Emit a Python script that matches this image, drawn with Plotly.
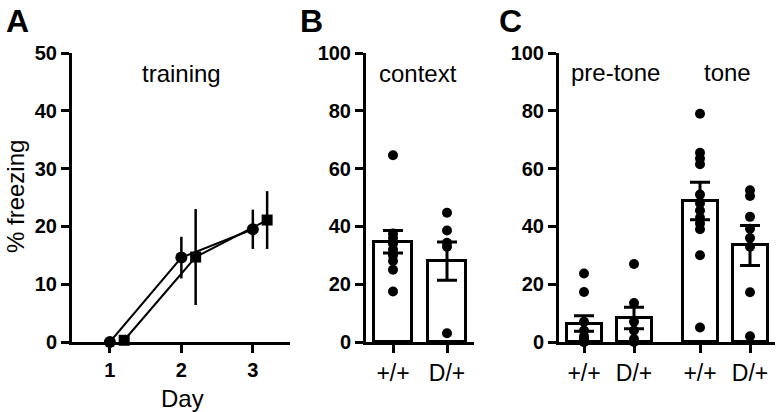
import plotly.graph_objects as go

# ---------------- data ----------------
days = [1, 2, 3]
wt_training = [0.0, 14.6, 19.5]
wt_training_sem = [0.0, 3.6, 3.4]
mut_training = [0.3, 14.7, 21.1]
mut_training_sem = [0.0, 8.3, 5.0]

genotypes = ["+/+", "D/+"]
context_mean = [34.7, 28.0]
context_sem = [3.9, 6.6]
context_wt_points = [64.6, 37.5, 36.0, 34.0, 32.0, 30.0, 28.0, 25.0, 17.5]
context_mut_points = [44.7, 38.6, 34.3, 33.0, 3.0]

pretone_mean = [6.4, 8.3]
pretone_sem = [2.7, 3.7]
pretone_wt_points = [23.7, 17.3, 7.0, 4.0, 2.0, 1.0, 0.5, 0.0, 0.0]
pretone_mut_points = [27.0, 13.5, 7.0, 4.0, 1.0, 0.0]

tone_mean = [48.8, 33.4]
tone_sem = [6.5, 6.9]
tone_wt_points = [79.0, 65.5, 63.5, 61.5, 51.0, 48.0, 45.5, 43.0, 41.0, 39.0, 30.0, 5.0]
tone_mut_points = [52.5, 50.5, 43.3, 39.2, 36.0, 33.0, 17.2, 2.0]

# ---------------- styling ----------------
W, H = 778, 412
FONT = "Liberation Sans, Arial, Helvetica, sans-serif"
MUT_OFFSET = 0.2
C_POS = [0, 1, 2.32, 3.32]   # category slots in panel C

def px(x):
    return x / W

def py(y):
    return 1 - y / H

fig = go.Figure()

# Panel A: training lines
fig.add_trace(go.Scatter(
    x=days, y=wt_training, mode="lines+markers",
    line=dict(color="black", width=2),
    marker=dict(symbol="circle", size=12, color="black"),
    error_y=dict(type="data", array=wt_training_sem, width=0, thickness=2.5, color="black"),
    cliponaxis=False, xaxis="x", yaxis="y", showlegend=False))
fig.add_trace(go.Scatter(
    x=[d + MUT_OFFSET for d in days], y=mut_training, mode="lines+markers",
    line=dict(color="black", width=2),
    marker=dict(symbol="square", size=11, color="black"),
    error_y=dict(type="data", array=mut_training_sem, width=0, thickness=2.5, color="black"),
    cliponaxis=False, xaxis="x", yaxis="y", showlegend=False))

bar_style = dict(marker=dict(color="white", line=dict(color="black", width=3)), width=0.7)
dot_style = dict(mode="markers", marker=dict(size=10, color="black"), cliponaxis=False, showlegend=False)

# Panel B: context
fig.add_trace(go.Bar(x=[0, 1], y=context_mean,
                     error_y=dict(type="data", array=context_sem, width=10, thickness=3, color="black"),
                     xaxis="x2", yaxis="y2", showlegend=False, **bar_style))
fig.add_trace(go.Scatter(x=[0] * len(context_wt_points), y=context_wt_points, xaxis="x2", yaxis="y2", **dot_style))
fig.add_trace(go.Scatter(x=[1] * len(context_mut_points), y=context_mut_points, xaxis="x2", yaxis="y2", **dot_style))

# Panel C: pre-tone and tone
fig.add_trace(go.Bar(x=C_POS, y=pretone_mean + tone_mean,
                     error_y=dict(type="data", array=pretone_sem + tone_sem, width=10, thickness=3, color="black"),
                     xaxis="x3", yaxis="y3", showlegend=False, **bar_style))
for pos, pts in zip(C_POS, [pretone_wt_points, pretone_mut_points, tone_wt_points, tone_mut_points]):
    fig.add_trace(go.Scatter(x=[pos] * len(pts), y=pts, xaxis="x3", yaxis="y3", **dot_style))

tick_bold = dict(family=FONT, size=20, color="black", weight="bold")
tick_reg = dict(family=FONT, size=23, color="black")
axis_common = dict(showline=True, linewidth=3, linecolor="black", showgrid=False, zeroline=False,
                   ticks="outside", ticklen=8, tickwidth=3, tickcolor="black", fixedrange=True,
                   automargin=False)

y_dom = [py(342), py(53)]

fig.update_layout(
    template="none",
    width=W, height=H, margin=dict(l=0, r=0, t=0, b=0, autoexpand=False),
    paper_bgcolor="white", plot_bgcolor="white", bargap=0,
    xaxis=dict(domain=[px(72), px(290)], range=[0.47, 3.52], tickvals=days, ticktext=[str(d) for d in days],
               tickfont=tick_bold, anchor="y", **axis_common),
    yaxis=dict(domain=y_dom, range=[0, 50], tickvals=[0, 10, 20, 30, 40, 50], tickfont=tick_bold,
               anchor="x", **axis_common),
    xaxis2=dict(domain=[px(366), px(474)], range=[-0.5, 1.5], tickvals=[0, 1], ticktext=genotypes,
                tickfont=tick_reg, anchor="y2", **axis_common),
    yaxis2=dict(domain=y_dom, range=[0, 100], tickvals=[0, 20, 40, 60, 80, 100], tickfont=tick_bold,
                anchor="x2", **axis_common),
    xaxis3=dict(domain=[px(559), px(775)], range=[-0.5, 3.82], tickvals=C_POS, ticktext=genotypes + genotypes,
                tickfont=tick_reg, anchor="y3", **axis_common),
    yaxis3=dict(domain=y_dom, range=[0, 100], tickvals=[0, 20, 40, 60, 80, 100], tickfont=tick_bold,
                anchor="x3", **axis_common),
)

def label(text, x, y, size=24, bold=False, angle=0):
    fig.add_annotation(text=text, x=px(x), y=py(y), xref="paper", yref="paper", showarrow=False,
                       textangle=angle, xanchor="center", yanchor="middle",
                       font=dict(family=FONT, size=size, color="black", weight="bold" if bold else "normal"))

label("A", 17, 21, size=32, bold=True)
label("B", 311, 21, size=32, bold=True)
label("C", 510, 21, size=32, bold=True)
label("training", 181, 73)
label("context", 418, 73)
label("pre-tone", 615, 72)
label("tone", 727, 72)
label("Day", 182, 398)
label("% freezing", 15, 197, angle=-90)

fig.write_html("out.html", config={"displayModeBar": False},
               post_script="document.body.style.margin='0';document.body.style.overflow='hidden';")
